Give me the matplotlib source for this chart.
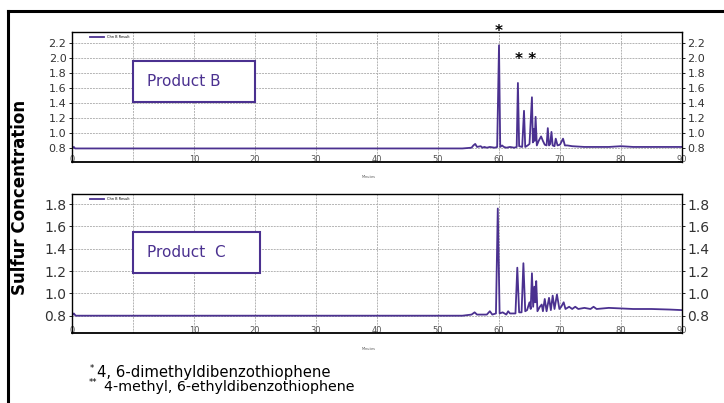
import matplotlib.pyplot as plt
from matplotlib.lines import Line2D
from matplotlib.patches import Rectangle

plt.rcParams['font.family'] = ['DejaVu Sans']

# chromatogram traces (minutes, sulfur response)
b_time = [-10, -9.7, -9.5, -9.2, 0, 10, 20, 30, 40, 50, 54, 55.5, 55.8, 56.1,
          56.4, 57, 57.3, 57.6, 58, 58.5, 59.3, 59.7, 60.0, 60.2, 60.5, 60.8,
          61.2, 61.8, 62.5, 62.9, 63.1, 63.3, 63.8, 64.1, 64.3, 64.7, 65.0,
          65.4, 65.55, 65.7, 65.85, 66.0, 66.2, 66.5, 66.9, 67.2, 67.5, 67.8,
          68.0, 68.2, 68.4, 68.6, 68.8, 69.1, 69.3, 69.6, 70.0, 70.5, 70.8,
          71.2, 72, 74, 76, 78, 80, 82, 85, 88, 90]
b_signal = [0.80, 0.82, 0.80, 0.80, 0.80, 0.80, 0.80, 0.80, 0.80, 0.80, 0.80,
            0.81, 0.84, 0.86, 0.82, 0.83, 0.81, 0.82, 0.81, 0.82, 0.81, 0.82,
            2.17, 0.82, 0.84, 0.82, 0.81, 0.82, 0.81, 0.82, 1.67, 0.83, 0.82,
            1.30, 0.82, 0.84, 0.86, 1.48, 0.88, 1.06, 0.90, 1.22, 0.84, 0.90,
            0.96, 0.90, 0.85, 0.84, 1.07, 0.84, 0.86, 1.02, 0.84, 0.83, 0.93,
            0.84, 0.85, 0.93, 0.84, 0.84, 0.83, 0.82, 0.82, 0.82, 0.83, 0.82,
            0.82, 0.82, 0.82]

c_time = [-10, -9.7, -9.4, 0, 10, 20, 30, 40, 50, 54, 55.5, 56, 56.4, 58, 58.5,
          58.9, 59.5, 59.8, 60.1, 60.6, 61.2, 61.5, 61.8, 62.7, 63.0, 63.3,
          63.7, 64.0, 64.3, 64.6, 65.0, 65.2, 65.4, 65.6, 65.8, 65.95, 66.1,
          66.3, 66.7, 67.0, 67.2, 67.5, 67.8, 68.2, 68.5, 68.8, 69.1, 69.5,
          69.9, 70.2, 70.6, 70.9, 71.5, 72, 72.5, 73, 74, 75, 75.5, 76, 78,
          80, 82, 85, 88, 90]
c_signal = [0.80, 0.82, 0.80, 0.80, 0.80, 0.80, 0.80, 0.80, 0.80, 0.80, 0.81,
            0.83, 0.81, 0.81, 0.84, 0.81, 0.82, 1.76, 0.82, 0.83, 0.81, 0.84,
            0.82, 0.82, 1.23, 0.83, 0.83, 1.27, 0.84, 0.85, 0.92, 0.86, 1.18,
            0.88, 1.06, 0.92, 1.11, 0.84, 0.88, 0.90, 0.84, 0.95, 0.84, 0.96,
            0.85, 0.98, 0.86, 0.99, 0.86, 0.88, 0.92, 0.86, 0.88, 0.86, 0.88,
            0.86, 0.87, 0.86, 0.88, 0.86, 0.87, 0.865, 0.86, 0.86, 0.855, 0.85]

x_ticks = [-10, 0, 10, 20, 30, 40, 50, 60, 70, 80, 90]
x_labels = ['0', '', '10', '20', '30', '40', '50', '60', '70', '80', '90']
b_yticks = [0.8, 1.0, 1.2, 1.4, 1.6, 1.8, 2.0, 2.2]
c_yticks = [0.8, 1.0, 1.2, 1.4, 1.6, 1.8]

purple = '#4b3190'

fig = plt.figure(figsize=(7.24, 4.03), dpi=100)

# outer frame (left and top edges)
fig.add_artist(Line2D([8/724, 8/724], [0, 1 - 11/403], color='black', lw=2.2))
fig.add_artist(Line2D([8/724, 1], [1 - 11/403, 1 - 11/403], color='black', lw=2.2))

ax_b = fig.add_axes([72/724, 1 - 162/403, 610/724, 130/403])
ax_c = fig.add_axes([72/724, 1 - 333/403, 610/724, 139/403])


def style_axis(ax, yticks, ylim, fs):
    ax.set_xlim(-10, 90)
    ax.set_ylim(*ylim)
    ax.set_xticks(x_ticks)
    ax.set_xticklabels(x_labels)
    ax.set_yticks(yticks)
    ax.set_yticklabels([f'{v:.1f}' for v in yticks])
    ax.grid(True, color='#b4b4b4', linestyle=(0, (2, 1)), lw=0.7)
    ax.tick_params(axis='x', length=0, pad=-5, labelsize=6, labelcolor='#555555')
    ax.tick_params(axis='y', direction='out', length=2.5, width=0.6, pad=1.5,
                   labelsize=fs, labelcolor='black', left=True, right=True,
                   labelleft=True, labelright=True)
    for lab in ax.get_yticklabels():
        lab.set_color('#333333')
    for s in ['left', 'right', 'top']:
        ax.spines[s].set_linewidth(1.0)
    ax.spines['bottom'].set_linestyle((0, (2, 1)))
    ax.spines['bottom'].set_linewidth(1.3)
    ax.text(0.475, -0.12, 'Minutes', transform=ax.transAxes, fontsize=2.5,
            color='#555555')


ax_b.plot(b_time, b_signal, color=purple, lw=1.3, label='Chn B Result')
style_axis(ax_b, b_yticks, (0.62, 2.347), 8)
ax_b.legend(loc='upper left', fontsize=2.5, frameon=False, handlelength=4,
            bbox_to_anchor=(0.025, 1.0))
ax_b.add_patch(Rectangle((0.1, 0.46), 0.2, 0.315, transform=ax_b.transAxes,
                         facecolor='white', edgecolor=purple, lw=1.5, zorder=3))
ax_b.text(0.123, 0.617, 'Product B', transform=ax_b.transAxes, ha='left',
          va='center', fontsize=11, color=purple, zorder=4)
ax_b.text(60.0, 2.36, '*', ha='center', va='center', fontsize=11,
          fontweight='bold', clip_on=False)
ax_b.text(64.4, 1.98, '* *', ha='center', va='center', fontsize=11,
          fontweight='bold')

ax_c.plot(c_time, c_signal, color=purple, lw=1.3, label='Chn B Result')
style_axis(ax_c, c_yticks, (0.645, 1.89), 10)
ax_c.legend(loc='upper left', fontsize=2.5, frameon=False, handlelength=4,
            bbox_to_anchor=(0.025, 1.0))
ax_c.add_patch(Rectangle((0.1, 0.435), 0.208, 0.295, transform=ax_c.transAxes,
                         facecolor='white', edgecolor=purple, lw=1.5, zorder=3))
ax_c.text(0.123, 0.58, 'Product  C', transform=ax_c.transAxes, ha='left',
          va='center', fontsize=11, color=purple, zorder=4)

fig.text(0.028, 0.51, 'Sulfur Concentration', rotation=90, ha='center',
         va='center', fontsize=12, fontweight='bold')

fig.text(90/724, 1 - 368/403, '*', fontsize=6, ha='left', va='center')
fig.text(97/724, 1 - 373/403, '4, 6-dimethyldibenzothiophene', fontsize=10.7,
         ha='left', va='center')
fig.text(89/724, 1 - 382/403, '**', fontsize=6, ha='left', va='center')
fig.text(104/724, 1 - 387/403, '4-methyl, 6-ethyldibenzothiophene', fontsize=10.3,
         ha='left', va='center')

fig.savefig('out.png', dpi=100)
